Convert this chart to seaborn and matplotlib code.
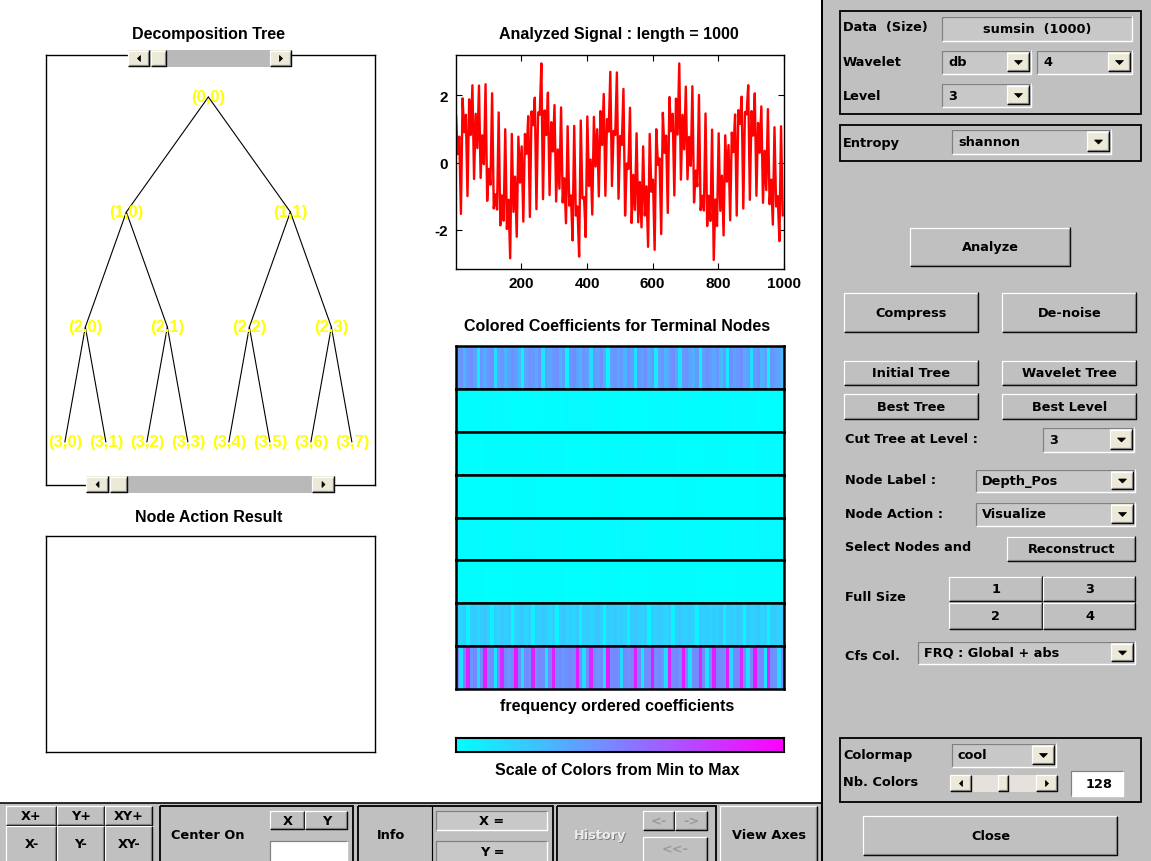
import numpy as np
import pandas as pd
import matplotlib
matplotlib.use("Agg")
import matplotlib.pyplot as plt
from matplotlib.patches import Rectangle, Polygon
from matplotlib.lines import Line2D
import seaborn as sns

W, H = 1151, 862

# ---------------- data ----------------
# analysed signal "sumsin", one value every 5 samples (1 .. 996)
signal_step = 5
signal_values = [
    1.43, 0.25, 0.77, -1.53, 1.91, 0.90, 1.42, -1.00, 1.88, 0.82,
    2.30, -0.49, 1.45, 0.43, 2.29, -0.46, 0.81, -0.05, 2.33, -1.14,
    -0.19, -0.66, 2.06, -1.37, -0.95, -1.40, 1.49, -1.87, -0.98, -1.73,
    0.99, -1.98, -1.11, -2.85, 0.85, -1.47, -0.42, -2.21, 0.77, -0.60,
    0.48, -1.76, 0.85, 0.26, 1.38, -1.62, 1.52, 1.11, 1.93, -1.39,
    1.49, 1.42, 2.95, -1.09, 1.55, 0.82, 2.08, -0.97, 1.20, 0.33,
    1.71, -1.16, 0.39, -0.78, 1.64, -1.19, -0.47, -1.81, 1.08, -1.28,
    -0.98, -2.32, 1.09, -1.58, -1.31, -2.80, 1.25, -1.07, -1.03, -2.22,
    1.37, -0.70, 0.09, -1.55, 1.36, -0.12, 0.99, -1.01, 1.53, 0.52,
    2.04, -0.99, 1.29, 0.92, 2.70, -0.70, 0.94, 0.82, 2.68, -1.08,
    0.79, 0.52, 2.19, -1.58, -0.03, -0.19, 1.63, -1.80, -0.37, -1.41,
    0.87, -1.78, -0.58, -1.93, 0.48, -1.58, -0.71, -2.51, 0.85, -0.87,
    -0.51, -2.60, 0.99, -0.07, 0.12, -2.13, 1.48, 0.29, 0.80, -1.50,
    1.95, 0.93, 1.45, -0.98, 1.90, 0.83, 2.95, -0.51, 1.42, 0.39,
    2.26, -0.50, 0.76, -0.10, 2.27, -1.19, -0.24, -0.71, 2.01, -1.42,
    -0.99, -1.43, 1.46, -1.89, -0.99, -1.74, 0.98, -2.90, -1.10, -1.89,
    0.87, -1.44, -0.39, -2.17, 0.81, -0.57, 0.52, -1.72, 0.89, 0.31,
    1.43, -1.58, 1.56, 1.15, 1.96, -1.37, 1.50, 1.43, 2.30, -1.11,
    1.53, 0.80, 2.06, -0.99, 1.18, 0.29, 1.67, -1.20, 0.35, -0.82,
    1.59, -1.24, -0.51, -1.85, 1.05, -1.31, -1.00, -2.34, 1.08, -1.58,
]
signal_xticks = [200, 400, 600, 800, 1000]
signal_yticks = [-2, 0, 2]

# wavelet packet tree, (depth, position)
tree_nodes = [(0, 0),
              (1, 0), (1, 1),
              (2, 0), (2, 1), (2, 2), (2, 3),
              (3, 0), (3, 1), (3, 2), (3, 3), (3, 4), (3, 5), (3, 6), (3, 7)]

# terminal-node coefficients, colour index in [0, 1] (frequency order, top to bottom)
coef_band_1 = [
    0.38, 0.42, 0.30, 0.40, 0.44, 0.36, 0.08, 0.40,
    0.33, 0.42, 0.45, 0.12, 0.38, 0.41, 0.30, 0.36,
    0.43, 0.39, 0.28, 0.05, 0.37, 0.42, 0.40, 0.33,
    0.44, 0.10, 0.39, 0.35, 0.41, 0.43, 0.31, 0.38,
    0.07, 0.40, 0.44, 0.36, 0.30, 0.42, 0.39, 0.14,
    0.41, 0.37, 0.45, 0.32, 0.06, 0.39, 0.42, 0.35,
    0.40, 0.29, 0.43, 0.38, 0.11, 0.41, 0.36, 0.44,
    0.33, 0.40, 0.08, 0.37, 0.42, 0.30, 0.39, 0.45,
    0.35, 0.13, 0.40, 0.43, 0.37, 0.31, 0.41, 0.06,
    0.38, 0.44, 0.40, 0.34, 0.42, 0.28, 0.39, 0.09,
    0.43, 0.36, 0.41, 0.45, 0.33, 0.38, 0.12, 0.40,
    0.44, 0.30, 0.37, 0.05, 0.42, 0.39, 0.35, 0.27,
]
coef_band_2 = [0.01, 0.02, 0.00, 0.01, 0.03, 0.01, 0.00, 0.02, 0.01, 0.01, 0.02, 0.00]
coef_band_3 = [0.00, 0.01, 0.01, 0.02, 0.00, 0.01, 0.02, 0.01, 0.00, 0.01, 0.00, 0.02]
coef_band_4 = [0.00, 0.00, 0.01, 0.00, 0.00, 0.01, 0.00, 0.00, 0.01, 0.00, 0.00, 0.01]
coef_band_5 = [0.02, 0.01, 0.03, 0.02, 0.01, 0.02, 0.03, 0.01, 0.02, 0.01, 0.02, 0.03]
coef_band_6 = [0.01, 0.00, 0.01, 0.01, 0.00, 0.01, 0.00, 0.01, 0.01, 0.00, 0.01, 0.01]
coef_band_7 = [
    0.20, 0.17, 0.22, 0.04, 0.19, 0.21, 0.15, 0.20,
    0.23, 0.18, 0.05, 0.20, 0.16, 0.22, 0.19, 0.21,
    0.03, 0.18, 0.20, 0.23, 0.17, 0.19, 0.06, 0.21,
    0.18, 0.22, 0.20, 0.15, 0.19, 0.04, 0.21, 0.23,
    0.18, 0.20, 0.16, 0.22, 0.05, 0.19, 0.21, 0.17,
    0.20, 0.23, 0.18, 0.03, 0.20, 0.19, 0.22, 0.16,
    0.21, 0.18, 0.06, 0.20, 0.23, 0.19, 0.17, 0.21,
    0.04, 0.20, 0.18, 0.22, 0.19, 0.16, 0.21, 0.05,
    0.20, 0.23, 0.18, 0.19, 0.21, 0.17, 0.04, 0.22,
    0.19, 0.20, 0.16, 0.21, 0.18, 0.23, 0.06, 0.19,
    0.20, 0.17, 0.22, 0.19, 0.03, 0.21, 0.18, 0.20,
    0.23, 0.16, 0.19, 0.05, 0.21, 0.20, 0.18, 0.22,
]
coef_band_8 = [
    0.45, 0.12, 0.48, 0.86, 0.40, 0.47, 0.15, 0.44,
    0.88, 0.42, 0.46, 0.10, 0.49, 0.83, 0.44, 0.41,
    0.47, 0.90, 0.43, 0.14, 0.46, 0.45, 0.85, 0.42,
    0.48, 0.44, 0.11, 0.47, 0.87, 0.43, 0.46, 0.40,
    0.45, 0.47, 0.44, 0.89, 0.42, 0.13, 0.48, 0.84,
    0.45, 0.41, 0.46, 0.12, 0.90, 0.44, 0.47, 0.43,
    0.15, 0.46, 0.42, 0.48, 0.86, 0.45, 0.10, 0.44,
    0.47, 0.88, 0.43, 0.46, 0.41, 0.14, 0.85, 0.45,
    0.48, 0.42, 0.90, 0.46, 0.13, 0.44, 0.47, 0.83,
    0.45, 0.11, 0.43, 0.87, 0.48, 0.46, 0.42, 0.89,
    0.15, 0.45, 0.47, 0.84, 0.43, 0.12, 0.46, 0.90,
    0.44, 0.48, 0.10, 0.86, 0.45, 0.42, 0.14, 0.47,
]
coef_bands = [coef_band_1, coef_band_2, coef_band_3, coef_band_4,
              coef_band_5, coef_band_6, coef_band_7, coef_band_8]
n_colors = 128

# ---------------- style ----------------
sns.set_style("white")
plt.rcParams["font.family"] = ["Liberation Sans", "DejaVu Sans"]
plt.rcParams["axes.unicode_minus"] = False

fig = plt.figure(figsize=(W / 100, H / 100), dpi=100)
fig.patch.set_facecolor("white")
cmap = plt.get_cmap("cool", n_colors)


def px_axes(x0, y0, x1, y1, **kw):
    return fig.add_axes([x0 / W, 1 - y1 / H, (x1 - x0) / W, (y1 - y0) / H], **kw)


def heading(x, y, s, size=11.5):
    fig.text(x / W, 1 - y / H, s, ha="center", va="center", fontsize=size,
             fontweight="bold", color="black")


def frame_axes(ax, lw=1.0):
    ax.set_xticks([])
    ax.set_yticks([])
    for sp in ax.spines.values():
        sp.set_visible(True)
        sp.set_color("black")
        sp.set_linewidth(lw)


# ---------------- decomposition tree ----------------
ax_tree = px_axes(46, 56, 375, 486)
ax_tree.set_xlim(0.005, 1.008)
ax_tree.set_ylim(3.374, -0.365)
frame_axes(ax_tree)


def node_x(d, p):
    return (p + 0.5) / 2 ** d


for d, p in tree_nodes:
    if d > 0:
        pd_, pp = d - 1, p // 2
        ax_tree.plot([node_x(pd_, pp), node_x(d, p)], [pd_, d], color="black", lw=0.8, zorder=1)
for d, p in tree_nodes:
    ax_tree.text(node_x(d, p), d, f"({d},{p})", color="#ffff00", ha="center", va="center",
                 fontsize=12, fontweight="bold", zorder=3)
heading(209, 35, "Decomposition Tree")

# ---------------- node action result ----------------
ax_node = px_axes(46, 537, 375, 753)
frame_axes(ax_node)
heading(209, 517, "Node Action Result")

# ---------------- analysed signal ----------------
ax_sig = px_axes(456, 56, 784, 270)
df_sig = pd.DataFrame({
    "index": np.arange(1, 1 + signal_step * len(signal_values), signal_step),
    "value": signal_values,
})
sns.lineplot(data=df_sig, x="index", y="value", color="#ff0000", lw=1.7, ax=ax_sig)
ax_sig.set_xlim(1, 1000)
ax_sig.set_ylim(-3.17, 3.2)
ax_sig.set_xticks(signal_xticks)
ax_sig.set_yticks(signal_yticks)
ax_sig.set_xlabel("")
ax_sig.set_ylabel("")
ax_sig.tick_params(direction="in", length=4, width=0.8, top=True, right=True,
                   bottom=True, left=True, labelsize=11, colors="black")
ax_sig.tick_params(axis="y", pad=6)
ax_sig.tick_params(axis="x", pad=5)
for lbl in ax_sig.get_xticklabels() + ax_sig.get_yticklabels():
    lbl.set_fontweight("bold")
for sp in ax_sig.spines.values():
    sp.set_visible(True)
    sp.set_color("black")
    sp.set_linewidth(1.0)
heading(619, 35, "Analyzed Signal : length = 1000")

# ---------------- coloured coefficients ----------------
y_top, y_bot = 347, 690
row_h = (y_bot - y_top) / len(coef_bands)
for i, band in enumerate(coef_bands):
    ax_b = px_axes(456, y_top + i * row_h, 784, y_top + (i + 1) * row_h)
    sns.heatmap(np.array([band]), ax=ax_b, cmap=cmap, vmin=0, vmax=1, cbar=False,
                xticklabels=False, yticklabels=False)
    frame_axes(ax_b, lw=1.8)
heading(617, 327, "Colored Coefficients for Terminal Nodes")
heading(617, 707, "frequency ordered coefficients")

ax_cb = px_axes(456, 739, 784, 753)
sns.heatmap(np.array([np.linspace(0, 1, n_colors)]), ax=ax_cb, cmap=cmap, vmin=0, vmax=1,
            cbar=False, xticklabels=False, yticklabels=False)
frame_axes(ax_cb, lw=1.5)
heading(617, 771, "Scale of Colors from Min to Max")

# ---------------- GUI controls (pixel coordinates) ----------------
gui = fig.add_axes([0, 0, 1, 1], zorder=10)
gui.set_xlim(0, W)
gui.set_ylim(H, 0)
gui.axis("off")
gui.patch.set_alpha(0)

FACE = "#c0c0c0"
FIELD = "#c8c8c8"
BEIGE = "#ece9d8"
LIGHT = "#ffffff"
SHADOW = "#808080"
GUI_FONT = dict(family="DejaVu Sans", fontweight="bold", fontsize=9.3)


def box(x0, y0, x1, y1, fc, ec="none", lw=0.0, z=2):
    gui.add_patch(Rectangle((x0, y0), x1 - x0, y1 - y0, facecolor=fc, edgecolor=ec,
                            linewidth=lw, zorder=z))


def edge(pts, c, lw=1.0, z=3):
    xs, ys = zip(*pts)
    gui.add_line(Line2D(xs, ys, color=c, lw=lw * 0.72, zorder=z, solid_capstyle="butt"))


def raised(x0, y0, x1, y1, fc=FACE, z=2):
    box(x0, y0, x1, y1, fc, z=z)
    edge([(x0 + 0.5, y1), (x0 + 0.5, y0 + 0.5), (x1, y0 + 0.5)], LIGHT, 1.2, z + 1)
    edge([(x0, y1 - 0.6), (x1 - 0.6, y1 - 0.6), (x1 - 0.6, y0)], "black", 1.4, z + 1)
    edge([(x0 + 1.5, y1 - 1.8), (x1 - 1.8, y1 - 1.8), (x1 - 1.8, y0 + 1.5)], SHADOW, 1.2, z + 1)


def sunken(x0, y0, x1, y1, fc=FIELD, z=2):
    box(x0, y0, x1, y1, fc, z=z)
    edge([(x0 + 0.5, y1), (x0 + 0.5, y0 + 0.5), (x1, y0 + 0.5)], SHADOW, 1.2, z + 1)
    edge([(x0, y1 - 0.5), (x1 - 0.5, y1 - 0.5), (x1 - 0.5, y0)], LIGHT, 1.4, z + 1)


def label(x, y, s, ha="left", color="black", z=6, **kw):
    opts = dict(GUI_FONT)
    opts.update(kw)
    gui.text(x, y, s, ha=ha, va="center", color=color, zorder=z, **opts)


def button(x0, y0, x1, y1, s, color="black", ty=None):
    raised(x0, y0, x1, y1)
    label((x0 + x1) / 2, (y0 + y1) / 2 if ty is None else ty, s, ha="center", color=color)


def frame(x0, y0, x1, y1):
    box(x0, y0, x1, y1, "none", ec="black", lw=1.3, z=3)


def popup(x0, y0, x1, y1, s):
    sunken(x0, y0, x1, y1, FIELD)
    bx0, bx1 = x1 - 25, x1 - 2
    raised(bx0, y0 + 2, bx1, y1 - 2, BEIGE, z=4)
    xc, yc = (bx0 + bx1) / 2, (y0 + y1) / 2
    gui.add_patch(Polygon([(xc - 4, yc - 1.5), (xc + 4, yc - 1.5), (xc, yc + 2.5)],
                          closed=True, facecolor="black", edgecolor="black", lw=0.5, zorder=6))
    label(x0 + 6, yc, s)


def arrow_button(x0, y0, x1, y1, direction):
    raised(x0, y0, x1, y1, BEIGE, z=4)
    xc, yc = (x0 + x1) / 2, (y0 + y1) / 2
    if direction < 0:
        pts = [(xc + 1.5, yc - 3), (xc + 1.5, yc + 3), (xc - 1.5, yc)]
    else:
        pts = [(xc - 1.5, yc - 3), (xc - 1.5, yc + 3), (xc + 1.5, yc)]
    gui.add_patch(Polygon(pts, closed=True, facecolor="black", edgecolor="black",
                          lw=0.5, zorder=6))


def scrollbar(x0, y0, x1, y1, a_w, thumb, trough="#b9b9b9"):
    box(x0, y0, x1, y1, trough, z=3)
    arrow_button(x0, y0, x0 + a_w, y1, -1)
    arrow_button(x1 - a_w, y0, x1, y1, +1)
    raised(thumb[0], y0, thumb[1], y1, BEIGE, z=4)


# scrollbars on the tree axes
scrollbar(128, 51, 292, 68, 22, (151, 167))
scrollbar(86, 477, 335, 494, 23, (110, 128))

# right-hand control panel
box(823, 0, W, H, FACE, z=1)
edge([(822, 0), (822, H)], "black", 2.0)

frame(840, 12, 1141, 115)
label(843, 28, "Data  (Size)")
sunken(942, 17, 1133, 42)
label(1037, 29.5, "sumsin  (1000)", ha="center")
label(843, 62, "Wavelet")
popup(942, 51, 1032, 75, "db")
popup(1037, 51, 1133, 75, "4")
label(843, 96, "Level")
popup(942, 84, 1032, 108, "3")

frame(840, 126, 1141, 162)
label(843, 143, "Entropy")
popup(952, 130, 1112, 155, "shannon")

button(910, 228, 1071, 268, "Analyze")
button(844, 293, 979, 334, "Compress")
button(1002, 293, 1137, 334, "De-noise")
button(844, 361, 979, 387, "Initial Tree")
button(1002, 361, 1137, 387, "Wavelet Tree")
button(844, 394, 979, 421, "Best Tree")
button(1002, 394, 1137, 421, "Best Level")

label(845, 440, "Cut Tree at Level :")
popup(1043, 428, 1135, 453, "3")
label(845, 481, "Node Label :")
popup(976, 470, 1136, 493, "Depth_Pos")
label(845, 515, "Node Action :")
popup(976, 503, 1136, 527, "Visualize")
label(845, 548, "Select Nodes and")
button(1007, 537, 1136, 563, "Reconstruct")
label(845, 598, "Full Size")
button(949, 577, 1043, 603, "1")
button(1043, 577, 1136, 603, "3")
button(949, 603, 1043, 631, "2")
button(1043, 603, 1136, 631, "4")
label(845, 657, "Cfs Col.")
popup(918, 642, 1136, 665, "FRQ : Global + abs")

frame(840, 739, 1141, 803)
label(843, 756, "Colormap")
popup(952, 744, 1057, 768, "cool")
label(843, 783, "Nb. Colors")
scrollbar(950, 776, 1058, 793, 22, (998, 1009), trough="#e4e2da")
sunken(1071, 772, 1124, 798, "white")
label(1112, 785, "128", ha="right")
button(863, 817, 1118, 857, "Close")

# bottom zoom / info toolbar
box(0, 804, 822, H, FACE, z=1)
edge([(0, 804), (822, 804)], "black", 1.6)
for (x0, x1, top, bot) in [(6, 57, "X+", "X-"), (57, 105, "Y+", "Y-"), (105, 153, "XY+", "XY-")]:
    button(x0, 807, x1, 827, top)
    button(x0, 827, x1, 866, bot, ty=845)

frame(160, 807, 353, 866)
label(208, 836, "Center On", ha="center")
button(270, 812, 305, 831, "X")
button(305, 812, 348, 831, "Y")
sunken(270, 842, 348, 866, "white")

frame(358, 807, 553, 866)
edge([(432, 807), (432, H)], "black", 1.2)
label(391, 836, "Info", ha="center")
sunken(436, 812, 548, 832)
label(492, 822, "X =", ha="center")
sunken(436, 842, 548, 866)
label(492, 853, "Y =", ha="center")

frame(557, 807, 716, 866)
label(601, 837, "History", ha="center", color=SHADOW, z=6)
label(600, 836, "History", ha="center", color="#ececec", z=7)
button(643, 812, 675, 832, "<-", color="#9a9a9a")
button(675, 812, 708, 832, "->", color="#9a9a9a")
button(643, 838, 708, 866, "<<-", color="#9a9a9a", ty=850)

button(720, 807, 818, 866, "View Axes", ty=836)

fig.savefig("out.png", dpi=100, facecolor="white")
